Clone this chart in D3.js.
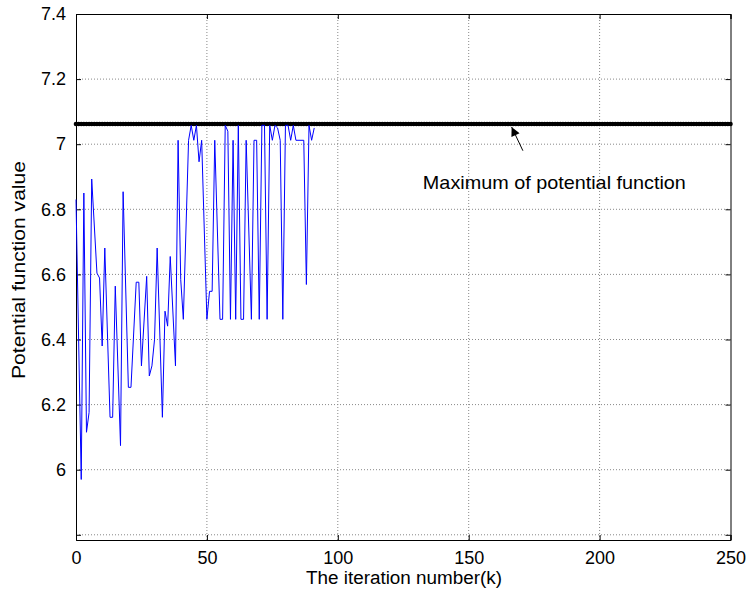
<!DOCTYPE html>
<html>
<head>
<meta charset="utf-8">
<script src="https://cdn.jsdelivr.net/npm/d3@7"></script>
<style>
  html, body { margin: 0; padding: 0; background: #fff; }
  svg { display: block; font-family: "Liberation Sans", Arial, Helvetica, sans-serif; }
</style>
</head>
<body>
<svg id="chart" width="754" height="591"></svg>
<script>
// ---- data ----
const iterations = [0,2,3,4,5,6,8,9,10,11,13,14,15,17,18,20,21,23,24,25,27,28,29,30,31,33,34,35,36,38,39,40,41,43,44,45,46,47,48,50,51,52,53,55,56,57,58,59,60,61,62,63,64,65,67,68,69,70,71,72,73,74,75,76,77,78,79,80,81,82,83,84,87,88,89,90,91];
const potential = [6.83,5.97,6.85,6.115,6.176,6.893,6.604,6.589,6.38,6.681,6.161,6.161,6.564,6.074,6.854,6.253,6.253,6.576,6.576,6.319,6.594,6.288,6.319,6.40,6.681,6.161,6.487,6.441,6.655,6.319,7.012,6.584,6.462,7.012,7.058,7.012,7.058,6.946,7.012,6.462,6.548,6.548,7.012,6.462,6.462,7.058,7.04,6.462,7.012,6.462,7.058,6.462,6.462,7.012,6.462,7.012,7.012,6.462,7.058,7.058,6.462,7.058,7.012,7.058,7.05,7.012,6.462,7.058,7.058,7.012,7.058,7.012,7.012,6.569,7.058,7.012,7.05];
const maxValue = 7.062;
const maxIterations = d3.range(0, 251);
const xTicks = [0,50,100,150,200,250];
const yTicks = [5.8,6,6.2,6.4,6.6,6.8,7,7.2,7.4];
const yTickLabels = ["","6","6.2","6.4","6.6","6.8","7","7.2","7.4"];
const xLabel = "The iteration number(k)";
const yLabel = "Potential function value";
const annotationText = "Maximum of potential function";

// ---- layout ----
const svg = d3.select("#chart");
const pLeft = 76, pRight = 730.5, pTop = 14, pBottom = 540;
const x = d3.scaleLinear().domain([0, 250]).range([pLeft, pRight]);
const y = d3.scaleLinear().domain([5.784, 7.4]).range([pBottom, pTop]);

// grid
const grid = svg.append("g");
grid.selectAll(".vg").data(xTicks.slice(1, -1)).enter().append("line")
  .attr("x1", d => x(d)).attr("x2", d => x(d)).attr("y1", pTop).attr("y2", pBottom)
  .attr("stroke", "#888").attr("stroke-width", 1).attr("stroke-dasharray", "1,2");
grid.selectAll(".hg").data(yTicks.filter(d => d > 5.79 && d < 7.39)).enter().append("line")
  .attr("x1", pLeft).attr("x2", pRight).attr("y1", d => y(d)).attr("y2", d => y(d))
  .attr("stroke", "#888").attr("stroke-width", 1).attr("stroke-dasharray", "1,2");

// axes
const tickFmtY = d => yTickLabels[yTicks.indexOf(d)];
const yAxisL = d3.axisLeft(y).tickValues(yTicks).tickSize(-5).tickPadding(10).tickFormat(tickFmtY);
const yAxisR = d3.axisRight(y).tickValues(yTicks).tickSize(-5).tickFormat("");
const xAxisB = d3.axisBottom(x).tickValues(xTicks).tickSize(-5).tickPadding(11).tickFormat(d3.format("d"));
const xAxisT = d3.axisTop(x).tickValues(xTicks).tickSize(-5).tickFormat("");

function styleAxis(g) {
  g.select(".domain").attr("stroke", "#000").attr("stroke-width", 1);
  g.selectAll(".tick line").attr("stroke", "#000");
  g.selectAll(".tick text").attr("fill", "#000").style("font-size", "18px")
    .style("font-family", "'Liberation Sans', Arial, sans-serif");
}
svg.append("g").attr("transform", `translate(${pLeft},0)`).call(yAxisL).call(styleAxis);
svg.append("g").attr("transform", `translate(${pRight},0)`).call(yAxisR).call(styleAxis);
svg.append("g").attr("transform", `translate(0,${pBottom})`).call(xAxisB).call(styleAxis);
svg.append("g").attr("transform", `translate(0,${pTop})`).call(xAxisT).call(styleAxis);

// black max line with point markers
svg.append("line")
  .attr("x1", x(0)).attr("x2", x(250)).attr("y1", y(maxValue)).attr("y2", y(maxValue))
  .attr("stroke", "#000").attr("stroke-width", 3);
svg.append("g").selectAll("circle").data(maxIterations).enter().append("circle")
  .attr("cx", d => x(d)).attr("cy", y(maxValue)).attr("r", 2.3)
  .attr("fill", "#000");

// blue series
const line = d3.line().x((d, i) => x(iterations[i])).y(d => y(d));
svg.append("path").datum(potential)
  .attr("d", line).attr("fill", "none").attr("stroke", "#0000ff").attr("stroke-width", 1);

// annotation arrow
const defs = svg.append("defs");
defs.append("marker").attr("id", "arrow").attr("viewBox", "0 0 10 10")
  .attr("refX", 10).attr("refY", 5).attr("markerWidth", 12).attr("markerHeight", 9)
  .attr("markerUnits", "userSpaceOnUse").attr("orient", "auto")
  .append("path").attr("d", "M0,0 L10,5 L0,10 Z").attr("fill", "#000");
svg.append("line")
  .attr("x1", x(170.7)).attr("y1", y(6.98))
  .attr("x2", x(166.4)).attr("y2", y(7.053))
  .attr("stroke", "#000").attr("stroke-width", 1).attr("marker-end", "url(#arrow)");
svg.append("text").attr("x", x(132.5)).attr("y", y(6.862))
  .attr("textLength", 263).attr("lengthAdjust", "spacingAndGlyphs")
  .style("font-size", "19px").attr("fill", "#000").text(annotationText);

// axis labels
svg.append("text").attr("x", 404).attr("y", 584)
  .attr("text-anchor", "middle").attr("textLength", 196).attr("lengthAdjust", "spacingAndGlyphs")
  .style("font-size", "18px").text(xLabel);
svg.append("text").attr("transform", `translate(25,270) rotate(-90)`)
  .attr("text-anchor", "middle").attr("textLength", 218).attr("lengthAdjust", "spacingAndGlyphs")
  .style("font-size", "18px").text(yLabel);
</script>
</body>
</html>
